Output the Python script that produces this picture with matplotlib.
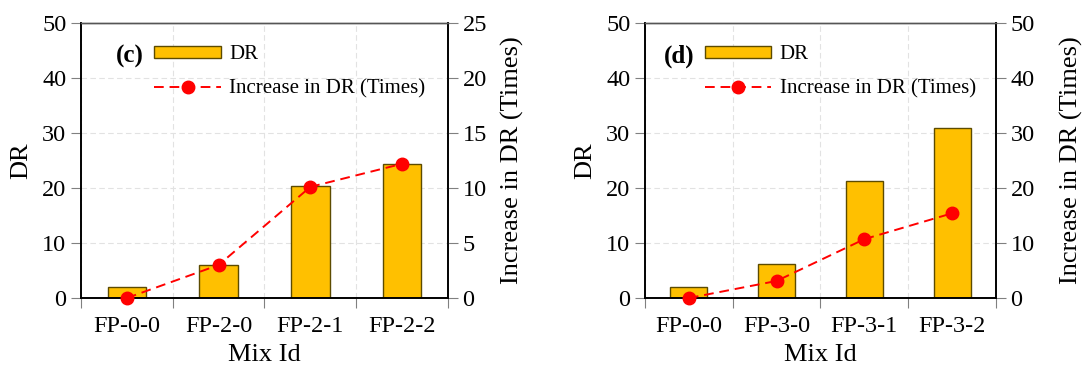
import numpy as np
import matplotlib
matplotlib.use("Agg")
import matplotlib.pyplot as plt

plt.rcParams["font.family"] = ["Liberation Serif", "DejaVu Serif"]

# panel (c)
mixes_c = ["FP-0-0", "FP-2-0", "FP-2-1", "FP-2-2"]
dr_c = [2.0, 6.0, 20.3, 24.4]
inc_c = [0.0, 3.0, 10.1, 12.2]

# panel (d)
mixes_d = ["FP-0-0", "FP-3-0", "FP-3-1", "FP-3-2"]
dr_d = [2.0, 6.1, 21.3, 30.9]
inc_d = [0.0, 3.1, 10.7, 15.4]

bar_color = "#FFC000"
edge_color = "#5C4B00"
tick_grey = "#808080"


def draw_panel(fig, rect, tag, mixes, dr, inc, right_max, right_step, leg_x, rpad):
    ax = fig.add_axes(rect)
    x = np.arange(len(mixes))
    bars = ax.bar(x, dr, width=0.42, color=bar_color, edgecolor=edge_color,
                  linewidth=1.0, zorder=2, label="DR")
    ax.set_xlim(-0.5, len(mixes) - 0.5)
    ax.set_ylim(0, 50)
    ax.set_yticks(np.arange(0, 51, 10))
    ax.set_xticks(np.arange(-0.5, len(mixes), 1.0))
    ax.set_xticklabels([])
    ax.set_xticks(x, minor=True)
    ax.set_xticklabels(mixes, minor=True)
    ax.tick_params(axis="x", which="minor", length=0, labelsize=17.5, pad=13)
    ax.tick_params(axis="x", which="major", length=7, direction="out", color=tick_grey)
    ax.tick_params(axis="y", length=7, direction="out", color=tick_grey, labelsize=17.5)
    ax.grid(True, which="major", linestyle=(0, (5, 3)), color="#e2e2e2", linewidth=0.8, zorder=0)
    ax.set_axisbelow(True)
    ax.set_xlabel("Mix Id", fontsize=19, labelpad=5)
    ax.set_ylabel("DR", fontsize=19, labelpad=7)

    ax2 = ax.twinx()
    line, = ax2.plot(x, inc, color="red", linestyle=(0, (5, 3)), linewidth=1.4,
                     marker="o", markersize=9, clip_on=False, zorder=3,
                     label="Increase in DR (Times)")
    ax2.set_ylim(0, right_max)
    ax2.set_yticks(np.arange(0, right_max + 1, right_step))
    ax2.tick_params(axis="y", length=7, direction="out", color=tick_grey, labelsize=17.5)
    ax2.set_ylabel("Increase in DR (Times)", fontsize=19, labelpad=rpad)

    for a in (ax, ax2):
        for side in ("left", "right", "bottom"):
            a.spines[side].set_color("black")
            a.spines[side].set_linewidth(1.2)
        a.spines["top"].set_color("#555555")
        a.spines["top"].set_linewidth(1.0)

    ax2.legend([bars, line], ["DR", "Increase in DR (Times)"], loc="upper left",
               bbox_to_anchor=(leg_x, 0.92), frameon=False, fontsize=15,
               handlelength=3.2, handleheight=0.5, handletextpad=0.4,
               labelspacing=0.75, borderpad=0, borderaxespad=0)
    ax2.text(leg_x - 0.03, 0.88, "(" + tag + ")", transform=ax.transAxes,
             fontsize=18, fontweight="bold", ha="right", va="center")
    return ax, ax2


fig = plt.figure(figsize=(10.86, 3.69), dpi=100)
draw_panel(fig, [0.0746, 0.1924, 0.3379, 0.7453], "c", mixes_c, dr_c, inc_c, 25, 5, 0.2, 10)
draw_panel(fig, [0.5939, 0.1924, 0.3232, 0.7453], "d", mixes_d, dr_d, inc_d, 50, 10, 0.17, 18)

fig.savefig("out.png", dpi=100)
